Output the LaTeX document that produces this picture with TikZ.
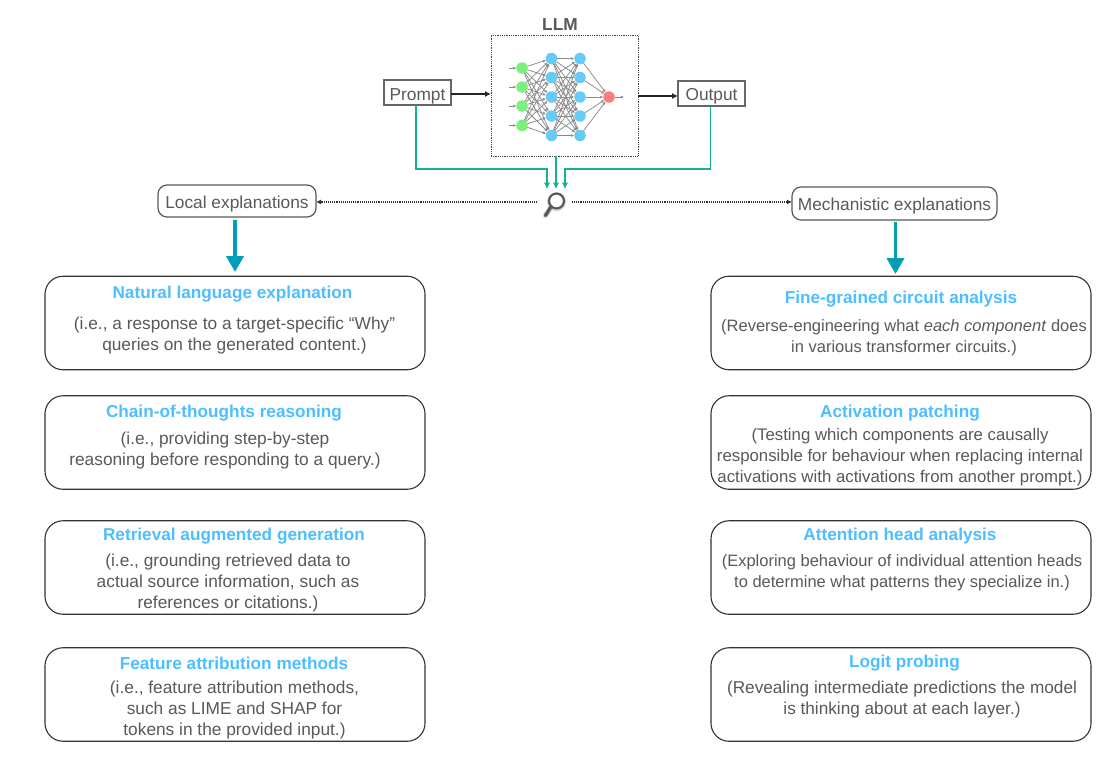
\documentclass[tikz,border=0pt]{standalone}
\usepackage{fontspec}
\setmainfont{Liberation Sans}
\usetikzlibrary{arrows.meta}
\definecolor{txt}{HTML}{595959}
\definecolor{ttl}{HTML}{4DBEFF}
\definecolor{tealg}{HTML}{12B38F}
\definecolor{tealb}{HTML}{009FB7}
\definecolor{nblue}{HTML}{66CCF7}
\definecolor{ngreen}{HTML}{7BF07A}
\definecolor{nred}{HTML}{FA7F7F}
\definecolor{edgec}{HTML}{8A8A8A}
\newcommand{\bodysize}[1]{\fontsize{#1}{21}\selectfont}
\newcommand{\lowered}[2]{\raisebox{-#1pt}[0pt][0pt]{#2}}
\tikzset{
 x=1pt,y=-1pt,
 every node/.style={font=\fontsize{17.3}{21}\selectfont,text=txt,inner sep=0pt,outer sep=0pt},
 sqbox/.style={draw=black!60,line width=1.3pt,fill=white,minimum height=25pt,minimum width=67pt},
 headbox/.style={draw=txt,line width=1.2pt,rounded corners=9pt,fill=white},
 bigbox/.style={draw=black!80,line width=1.1pt,rounded corners=18pt,minimum width=380pt,minimum height=93.5pt,fill=white},
 ttlt/.style={font=\fontsize{17.2}{20}\selectfont\bfseries,text=ttl,yshift=-1.5pt},
 body/.style={align=center,yshift=-2pt},
 blackarrow/.style={draw=black!85,line width=1.3pt,-{Latex[length=6pt,width=6pt]}},
 greenarrow/.style={draw=tealg,line width=1.2pt,-{Latex[length=6.5pt,width=6.5pt]}},
 dotarrow/.style={draw=black!80,line width=1.1pt,densely dotted,-{Latex[length=5pt,width=5pt]}},
 thickarrow/.style={draw=tealb,line width=3.8pt,-{Triangle[length=16pt,width=17pt]}},
 nn/.style={circle,minimum size=11.5pt,draw=none},
 nnedge/.style={draw=edgec,line width=0.75pt},
 nnin/.style={draw=edgec,line width=0.8pt,-{Latex[length=3pt,width=3pt]}},
}
\begin{document}
\begin{tikzpicture}
\useasboundingbox (0,0) rectangle (1116,758);
\fill[white] (0,0) rectangle (1116,758);
% LLM
\node[font=\fontsize{17.3}{20}\selectfont\bfseries] (llmlabel) at (560,25) {LLM};
\node[draw=black!75,line width=0.8pt,densely dotted,minimum width=147pt,minimum height=121pt] (llm) at (564.5,95.5) {};
% network
\foreach \i/\y in {1/68,2/87,3/106,4/125.5}{\node[nn,fill=ngreen] (g\i) at (522,\y) {};
 \coordinate (gin\i) at (509,\y);}
\foreach \i/\y in {1/58.5,2/77.5,3/97,4/116,5/135.5}{
 \node[nn,fill=nblue] (a\i) at (551.5,\y) {};
 \node[nn,fill=nblue] (b\i) at (580,\y) {};}
\node[nn,fill=nred] (r) at (609,97) {};
\coordinate (rout) at (624,97);
\foreach \i in {1,2,3,4}{\draw[nnin] (gin\i) -- (g\i);
 \foreach \j in {1,...,5}{\draw[nnedge,-{Latex[length=3pt,width=3pt]}] (g\i) -- (a\j);}}
\foreach \i in {1,...,5}{\foreach \j in {1,...,5}{\draw[nnedge,-{Latex[length=3pt,width=3pt]}] (a\i) -- (b\j);}
 \draw[nnedge,-{Latex[length=3pt,width=3pt]}] (b\i) -- (r);}
\draw[nnin] (r) -- (rout);
% prompt, output
\node[sqbox] (prompt) at (417.5,92.5) {\lowered{7.6}{Prompt}};
\node[sqbox] (output) at (711.5,93.5) {\lowered{7}{Output}};
\draw[blackarrow] (prompt.east |- 0,94) -- (llm.west |- 0,94);
\draw[blackarrow] (llm.east |- 0,96) -- (output.west |- 0,96);
% magnifier
\coordinate (handle) at (545.5,215.5);
\node[circle,draw=black!12,line width=4pt,minimum size=15pt] (magshadow) at (556.5,202) {};
\draw[black!14,line width=5.5pt,line cap=round] (magshadow.225) -- (handle);
\node[circle,draw=txt,line width=2.2pt,minimum size=15pt,fill=white] (mag) at (556.5,201) {};
\draw[txt,line width=3.3pt,line cap=round] (mag.225) -- (handle);
\coordinate (tl) at (547,189);
\coordinate (tm) at (556,189);
\coordinate (tr) at (565,189);
\coordinate (mid) at (0,169);
\draw[greenarrow] ([xshift=-1.5pt]prompt.south) |- (tl |- mid) -- (tl);
\draw[greenarrow] (tm |- llm.south) -- (tm);
\draw[greenarrow] ([xshift=-0.7pt]output.south) |- (tr |- mid) -- (tr);
% headers
\node[headbox,minimum width=158pt,minimum height=32pt] (local) at (237,201) {\lowered{7.5}{Local explanations}};
\node[headbox,minimum width=205pt,minimum height=33pt] (mech) at (894.5,203.5) {\lowered{6.8}{Mechanistic explanations}};
\coordinate (magl) at (537,202);
\coordinate (magr) at (572,202);
\draw[dotarrow] (magl) -- (local.east |- magl);
\draw[dotarrow] (magr) -- (mech.west |- magr);
% big boxes
\node[bigbox] (l1) at (235,323) {};
\node[bigbox] (l2) at (235,442.5) {};
\node[bigbox] (l3) at (235,567.5) {};
\node[bigbox] (l4) at (235,694.5) {};
\node[bigbox] (r1) at (901,323) {};
\node[bigbox] (r2) at (901,442.5) {};
\node[bigbox] (r3) at (901,567.5) {};
\node[bigbox] (r4) at (901,694.5) {};
\coordinate (larr) at (235,272);
\coordinate (rarr) at (895.5,274);
\draw[thickarrow] (larr |- local.south) ++(0,3) -- (larr);
\draw[thickarrow] (rarr |- mech.south) ++(0,2) -- (rarr);
% left text
\node[ttlt] (lt1) at (232.5,293) {Natural language explanation};
\node[body] (lb1) at (234.5,334) {(i.e., a response to a target-specific “Why”\\queries on the generated content.)};
\node[ttlt] (lt2) at (224,412) {Chain-of-thoughts reasoning};
\node[body] (lb2) at (225,448.5) {(i.e., providing step-by-step\\reasoning before responding to a query.)};
\node[ttlt] (lt3) at (234,535) {Retrieval augmented generation};
\node[body] (lb3) at (228,581) {(i.e., grounding retrieved data to\\actual source information, such as\\references or citations.)};
\node[ttlt] (lt4) at (234,661.5) {Feature attribution methods};
\node[body] (lb4) at (234.5,708) {(i.e., feature attribution methods,\\such as LIME and SHAP for\\tokens in the provided input.)};
% right text
\node[ttlt] (rt1) at (901,298) {Fine-grained circuit analysis};
\node[body,font=\bodysize{16.5}] (rb1) at (904,336) {(Reverse-engineering what \textit{each component} does\\in various transformer circuits.)};
\node[ttlt] (rt2) at (900,412) {Activation patching};
\node[body,font=\bodysize{16.8}] (rb2) at (900,455.5) {(Testing which components are causally\\responsible for behaviour when replacing internal\\activations with activations from another prompt.)};
\node[ttlt] (rt3) at (900,535) {Attention head analysis};
\node[body,font=\bodysize{16.5}] (rb3) at (902,571) {(Exploring behaviour of individual attention heads\\to determine what patterns they specialize in.)};
\node[ttlt] (rt4) at (904.5,662) {Logit probing};
\node[body,font=\bodysize{17.2}] (rb4) at (902,698) {(Revealing intermediate predictions the model\\is thinking about at each layer.)};
\end{tikzpicture}
\end{document}
